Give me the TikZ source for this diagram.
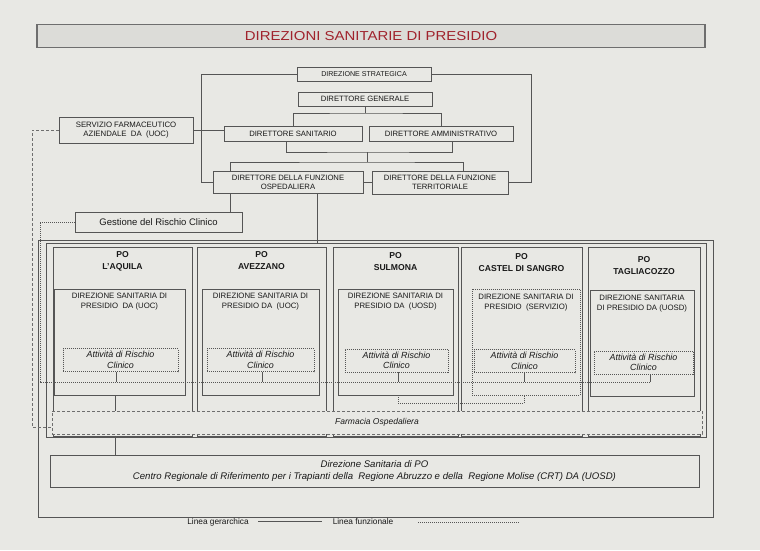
\documentclass[tikz,border=0pt]{standalone}
\usepackage{fontspec}
\setmainfont{Liberation Sans}
\usetikzlibrary{calc}
\definecolor{bg}{RGB}{232,232,228}
\definecolor{ln}{RGB}{85,85,85}
\definecolor{tx}{RGB}{25,25,25}
\definecolor{ttl}{RGB}{160,35,45}
\definecolor{tfill}{RGB}{220,220,216}
\begin{document}
\begin{tikzpicture}[x=1pt,y=-1pt,
  wh/.style 2 args={minimum width=#1pt,minimum height=#2pt},
  box/.style={draw=ln,line width=0.7pt,inner sep=0pt,align=center,text=tx,font=\fontsize{7.7}{9}\selectfont},
  plain/.style={draw=ln,line width=0.7pt,inner sep=0pt},
  dotbox/.style={draw=ln,line width=0.7pt,inner sep=0pt,dash pattern=on 1pt off 1pt},
  potitle/.style={inner sep=0pt,align=center,text=tx,font=\fontsize{8.6}{12}\selectfont\bfseries},
  dstext/.style={inner sep=0pt,align=center,text=tx,font=\fontsize{7.8}{10}\selectfont},
  atbox/.style={draw=ln,line width=0.7pt,inner sep=0pt,dash pattern=on 1pt off 1pt,align=center,text=tx,font=\fontsize{8.9}{10.5}\selectfont\itshape},
  hier/.style={draw=ln,line width=0.7pt},
  func/.style={draw=ln,line width=0.7pt,dash pattern=on 1pt off 1pt},
  dsh/.style={draw=ln!85,line width=0.8pt,dash pattern=on 3pt off 2pt},
  lg/.style={inner sep=0pt,text=tx,font=\fontsize{8.3}{9}\selectfont},
]
\fill[bg] (0,0) rectangle (760,550);
\path[use as bounding box] (0,0) rectangle (760,550);

% title
\node[draw=ln!85,line width=1.8pt,fill=tfill,wh={668}{23},inner sep=0pt,text=ttl,font=\fontsize{13}{15}\selectfont] (title) at (371,36) {\scalebox{1.15}[1]{DIREZIONI SANITARIE DI PRESIDIO}};

% top management
\node[box,wh={134}{14},font=\fontsize{7.1}{8}\selectfont] (ds) at (364,74) {DIREZIONE STRATEGICA};
\node[box,wh={134}{14}] (dg) at (365,99) {DIRETTORE GENERALE};
\node[box,wh={138}{15}] (dsan) at (293,133.5) {DIRETTORE SANITARIO};
\node[box,wh={144}{15}] (dam) at (441,133.5) {DIRETTORE AMMINISTRATIVO};
\node[box,wh={150}{22}] (dfo) at (288,182) {DIRETTORE DELLA FUNZIONE\\OSPEDALIERA};
\node[box,wh={136}{23}] (dft) at (440,182.5) {DIRETTORE DELLA FUNZIONE\\TERRITORIALE};
\node[box,wh={134}{26},font=\fontsize{7.8}{9.4}\selectfont] (sfa) at (126,130) {SERVIZIO FARMACEUTICO\\AZIENDALE\ \ DA\ \ (UOC)};
\node[box,wh={167}{20},font=\fontsize{9.5}{10}\selectfont] (grc) at (158.5,222) {Gestione del Rischio Clinico};

% frames
\node[plain,wh={675}{277}] (frame) at (375.5,378.5) {};
\node[plain,wh={660}{194}] (cont) at (376,340) {};

% PO boxes
\node[plain,wh={139}{189}] (la) at (122.5,341.5) {};
\node[plain,wh={129}{189}] (av) at (261.5,341.5) {};
\node[plain,wh={125}{189}] (su) at (395.5,341.5) {};
\node[plain,wh={121}{189}] (cs) at (521.5,341.5) {};
\node[plain,wh={112}{189}] (ta) at (644,341.5) {};

\node[potitle] (la-t) at (122.5,261) {PO\\L'AQUILA};
\node[potitle] (av-t) at (261.5,261) {PO\\AVEZZANO};
\node[potitle] (su-t) at (395.5,262) {PO\\SULMONA};
\node[potitle] (cs-t) at (521.5,263) {PO\\CASTEL DI SANGRO};
\node[potitle] (ta-t) at (644,266) {PO\\TAGLIACOZZO};

% DS boxes
\node[plain,wh={131}{106}] (la-ds) at (119.5,342) {};
\node[plain,wh={117}{106}] (av-ds) at (260.5,342) {};
\node[plain,wh={115}{106}] (su-ds) at (395.5,342) {};
\node[dotbox,wh={108}{106}] (cs-ds) at (526,342) {};
\node[plain,wh={104}{106}] (ta-ds) at (642,343) {};

\node[dstext] (la-dt) at (119.5,302) {DIREZIONE SANITARIA DI\\PRESIDIO\ \ DA (UOC)};
\node[dstext] (av-dt) at (260.5,302) {DIREZIONE SANITARIA DI\\PRESIDIO DA\ \ (UOC)};
\node[dstext] (su-dt) at (395.5,302) {DIREZIONE SANITARIA DI\\PRESIDIO DA\ \ (UOSD)};
\node[dstext] (cs-dt) at (526,303) {DIREZIONE SANITARIA DI\\PRESIDIO\ \ (SERVIZIO)};
\node[dstext] (ta-dt) at (642,304) {DIREZIONE SANITARIA\\DI PRESIDIO DA (UOSD)};

% Attivita boxes
\node[atbox,wh={115}{23}] (la-a) at (120.5,360) {Attività di Rischio\\Clinico};
\node[atbox,wh={107}{23}] (av-a) at (260.5,360) {Attività di Rischio\\Clinico};
\node[atbox,wh={103}{23}] (su-a) at (396.5,360.5) {Attività di Rischio\\Clinico};
\node[atbox,wh={101}{23}] (cs-a) at (524.5,361) {Attività di Rischio\\Clinico};
\node[atbox,wh={99}{23}] (ta-a) at (643.5,362.5) {Attività di Rischio\\Clinico};

% hierarchical connectors
\coordinate (sl) at (201,0);
\coordinate (sr) at (531,0);
\draw[hier] (ds.west) -- (ds.west -| sl) -- (sl |- dfo.west) -- (dfo.west);
\draw[hier] (ds.east) -- (ds.east -| sr) -- (sr |- dft.east) -- (dft.east);
\draw[hier] (sfa.east) -- (sfa.east -| dsan.west);
\coordinate (j1) at (365,113);
\draw[hier] (dg.south) -- (j1);
\draw[hier] (dsan.north) |- (j1) -| (dam.north);
\coordinate (j2) at (367,152);
\coordinate (j3) at (367,162);
\draw[hier] ([xshift=-7pt]dsan.south) |- (j2) -| ([xshift=11pt]dam.south);
\draw[hier] (j2) -- (j3);
\draw[hier] ([xshift=18pt]dfo.north west) |- (j3) -| ([xshift=-45pt]dft.north east);
\draw[hier] (dfo.east) -- (dfo.east -| dft.west);
\coordinate (o1) at ([xshift=18pt]dfo.south west);
\coordinate (o2) at ([xshift=105pt]dfo.south west);
\draw[hier] (o1) -- (o1 |- grc.north);
\draw[hier] (o2) -- (o2 |- cont.north);

% functional line from Gestione del Rischio Clinico
\coordinate (fl) at (40,382);
\coordinate (las) at ([xshift=-4.5pt]la-a.south);
\coordinate (avs) at ([xshift=1.5pt]av-a.south);
\coordinate (sus) at ([xshift=1.5pt]su-a.south);
\coordinate (css) at (cs-a.south);
\coordinate (tas) at ([xshift=7pt]ta-a.south);
\draw[func] (grc.west) -| (fl) -- (fl -| tas);
\draw[hier] (las) -- (las |- fl);
\draw[hier] (avs) -- (avs |- fl);
\draw[hier] (sus) -- (sus |- fl);
\draw[hier] (css) -- (css |- fl);
\draw[hier] (tas) -- (tas |- fl);

% Sulmona - Castel di Sangro functional link
\draw[func] ([xshift=2.5pt]su-ds.south) -- ++(0,8) -| ([xshift=-2pt]cs-ds.south);

% Farmacia Ospedaliera
\coordinate (lds) at ([xshift=-4.5pt]la-ds.south);
\draw[hier] (lds) -- ++(0,20);
\node[dsh,fill=bg,wh={650}{23},inner sep=0pt,text=tx,font=\fontsize{8.5}{10}\selectfont\itshape] (farm) at (377,422.5) {Farmacia Ospedaliera};
\coordinate (sfl) at (32,427);
\draw[dsh] (sfa.west) -| (sfl) -- (sfl -| farm.west);

% CRT
\node[box,wh={649}{32},font=\fontsize{9.6}{12}\selectfont\itshape] (crt) at (374.5,471) {Direzione Sanitaria di PO\\Centro Regionale di Riferimento per i Trapianti della\ \ Regione Abruzzo e della\ \ Regione Molise (CRT) DA (UOSD)};
\coordinate (lcr) at ([xshift=-7.5pt]la.south);
\draw[hier] (lcr) -- (lcr |- crt.north);

% legend
\node[lg] (lg1) at (218,522) {Linea gerarchica};
\coordinate (lga) at (258,521);
\coordinate (lgb) at (322,521);
\draw[hier] (lga) -- (lgb);
\node[lg] (lg2) at (363,522) {Linea funzionale};
\coordinate (lgc) at (418,522);
\coordinate (lgd) at (520,522);
\draw[func] (lgc) -- (lgd);
\end{tikzpicture}
\end{document}
